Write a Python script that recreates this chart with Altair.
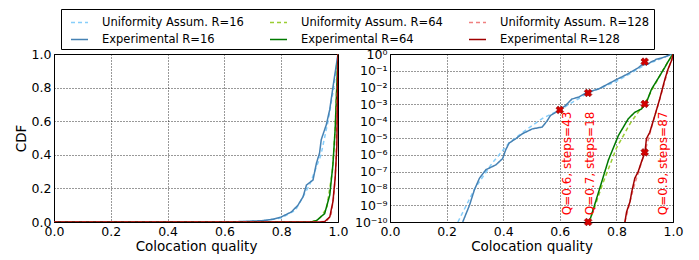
import altair as alt
import pandas as pd

# ---------------- data ----------------
plot_order = ["Uniformity Assum. R=16", "Experimental R=16",
              "Uniformity Assum. R=64", "Experimental R=64",
              "Uniformity Assum. R=128", "Experimental R=128"]
series_colors = ["#87cefa", "#4682b4", "#9acd32", "#007a00", "#f08080", "#a00000"]
series_dashes = [[4, 3], [1, 0], [4, 3], [1, 0], [4, 3], [1, 0]]

uni16_q = [0.0, 0.24, 0.30, 0.36, 0.42, 0.48, 0.54, 0.60, 0.65, 0.70, 0.75, 0.80, 0.85, 0.90, 0.94, 0.965, 0.985, 1.0]
uni16_cdf = [0.0, 1e-10, 1e-8, 3e-7, 5e-6, 3e-5, 1.5e-4, 4.7e-4, 1.5e-3, 4.8e-3, 1e-2, 2.4e-2, 0.07, 0.22, 0.40, 0.60, 0.80, 1.0]

exp16_q = [0.0, 0.257, 0.281, 0.298, 0.316, 0.339, 0.374, 0.398, 0.409, 0.421, 0.444, 0.468, 0.503, 0.538,
           0.556, 0.567, 0.596, 0.620, 0.643, 0.667, 0.696, 0.737, 0.772, 0.80, 0.836, 0.859, 0.877, 0.889,
           0.912, 0.924, 0.935, 0.941, 0.959, 0.971, 0.982, 0.99, 1.0]
exp16_cdf = [0.0, 1e-10, 1e-9, 8e-9, 4e-8, 1.3e-7, 2.5e-7, 6e-7, 2e-6, 5e-6, 9e-6, 1.8e-5, 3.5e-5, 4.5e-5,
             1.1e-4, 2.2e-4, 4.3e-4, 8.5e-4, 2.1e-3, 2.7e-3, 5.2e-3, 8.3e-3, 1.7e-2, 3e-2, 0.06, 0.10, 0.15, 0.22,
             0.25, 0.35, 0.41, 0.49, 0.58, 0.67, 0.80, 0.89, 1.0]

uni64_q = [0.0, 0.705, 0.75, 0.80, 0.85, 0.88, 0.90, 0.93, 0.96, 0.98, 0.99, 1.0]
uni64_cdf = [0.0, 1e-10, 1.6e-8, 2.5e-6, 8e-5, 4e-4, 1.07e-3, 1e-2, 0.08, 0.30, 0.55, 1.0]

exp64_q = [0.0, 0.708, 0.737, 0.772, 0.807, 0.842, 0.865, 0.889, 0.906, 0.924, 0.953, 0.971, 0.982, 0.99, 1.0]
exp64_cdf = [0.0, 1.6e-10, 6e-9, 5e-7, 1.4e-5, 1.4e-4, 3.4e-4, 5.4e-4, 1.3e-3, 8e-3, 0.05, 0.16, 0.34, 0.55, 1.0]

uni128_q = [0.0, 0.83, 0.86, 0.90, 0.93, 0.96, 0.975, 0.985, 0.993, 1.0]
uni128_cdf = [0.0, 1e-10, 1e-8, 1.4e-6, 1e-4, 5e-3, 0.04, 0.15, 0.35, 1.0]

exp128_q = [0.0, 0.830, 0.836, 0.848, 0.854, 0.865, 0.877, 0.889, 0.901, 0.906, 0.918, 0.936, 0.953,
            0.971, 0.982, 0.99, 0.996, 1.0]
exp128_cdf = [0.0, 1e-10, 4e-10, 1.6e-9, 6e-9, 4e-8, 1e-7, 4e-7, 1.4e-6, 9e-6, 2.2e-5, 2.2e-4, 2.1e-3,
              0.03, 0.12, 0.26, 0.45, 1.0]

marker_q = [0.6, 0.7, 0.9, 0.9, 0.9, 0.7]
marker_cdf = [4.7e-4, 4.8e-3, 0.35, 1.07e-3, 1.4e-6, 1e-10]

note_text = ["Q=0.6, steps=43", "Q=0.7, steps=18", "Q=0.9, steps=87"]
note_q = [0.626, 0.708, 0.965]
note_cdf = [2.5e-10, 2.5e-10, 2.5e-10]

x_ticks = [0.0, 0.2, 0.4, 0.6, 0.8, 1.0]
y_ticks = [0.0, 0.2, 0.4, 0.6, 0.8, 1.0]
log_ticks = [1, 1e-1, 1e-2, 1e-3, 1e-4, 1e-5, 1e-6, 1e-7, 1e-8, 1e-9, 1e-10]
log_tick_labels = ["10⁰", "10⁻¹", "10⁻²", "10⁻³", "10⁻⁴", "10⁻⁵", "10⁻⁶", "10⁻⁷", "10⁻⁸", "10⁻⁹", "10⁻¹⁰"]

# ---------------- build tables ----------------
series_data = {
    "Uniformity Assum. R=16": (uni16_q, uni16_cdf),
    "Experimental R=16": (exp16_q, exp16_cdf),
    "Uniformity Assum. R=64": (uni64_q, uni64_cdf),
    "Experimental R=64": (exp64_q, exp64_cdf),
    "Uniformity Assum. R=128": (uni128_q, uni128_cdf),
    "Experimental R=128": (exp128_q, exp128_cdf),
}
rows = []
for name in plot_order:
    qs, cs = series_data[name]
    for i, (q, c) in enumerate(zip(qs, cs)):
        rows.append({"series": name, "q": q, "cdf": c, "idx": i})
df = pd.DataFrame(rows)
markers = pd.DataFrame({"q": marker_q, "cdf": marker_cdf})
notes = pd.DataFrame({"q": note_q, "cdf": note_cdf, "text": note_text})

FONT = "DejaVu Sans"

legend = alt.Legend(
    title=None, orient="none", legendX=7, legendY=-45, columns=3,
    symbolType="stroke", symbolSize=289, symbolStrokeWidth=1.5,
    labelFont=FONT, labelFontSize=11.5, labelColor="black", labelOffset=13,
    columnPadding=20, rowPadding=2, padding=4, symbolOffset=5,
    strokeColor="black", fillColor="white", cornerRadius=0,
)
color_enc = alt.Color("series:N", scale=alt.Scale(domain=plot_order, range=series_colors), legend=legend)
dash_enc = alt.StrokeDash("series:N", scale=alt.Scale(domain=plot_order, range=series_dashes), legend=legend)

x_enc = alt.X("q:Q", scale=alt.Scale(domain=[0, 1], nice=False),
              axis=alt.Axis(values=x_ticks, format=".1f", title="Colocation quality"))


def lines(y_enc, data):
    layers = []
    for name in plot_order:
        layers.append(
            alt.Chart(data).transform_filter(alt.datum.series == name)
            .mark_line(strokeWidth=1.5, clip=True)
            .encode(x=x_enc, y=y_enc, color=color_enc, strokeDash=dash_enc, order="idx:Q")
        )
    return layers


y_lin = alt.Y("cdf:Q", scale=alt.Scale(domain=[0, 1], nice=False),
              axis=alt.Axis(values=y_ticks, format=".1f", title="CDF"))
left = alt.layer(*lines(y_lin, df)).properties(width=284, height=168)

label_expr = "[" + ",".join("'" + s + "'" for s in log_tick_labels) + "][round(-log(datum.value)/LN10)]"
y_log = alt.Y("cdf:Q", scale=alt.Scale(type="log", domain=[1e-10, 1], nice=False),
              axis=alt.Axis(values=log_ticks, labelExpr=label_expr, title=None))

df_pos = df[df["cdf"] > 0]
mark_layer = alt.Chart(markers).mark_point(
    shape="cross", angle=45, filled=True, size=60, color="#d40000", stroke="#8b0000", strokeWidth=0.6, opacity=1
).encode(x=alt.X("q:Q"), y=alt.Y("cdf:Q"))
note_layer = alt.Chart(notes).mark_text(
    angle=270, align="left", baseline="middle", color="#ff0000", font=FONT, fontSize=12
).encode(x=alt.X("q:Q"), y=alt.Y("cdf:Q"), text="text:N")

right = alt.layer(*lines(y_log, df_pos), mark_layer, note_layer).properties(width=283, height=168)

chart = (
    alt.hconcat(left, right, spacing=4)
    .resolve_scale(color="shared", strokeDash="shared")
    .properties(padding={"left": 5, "top": 0, "right": 0, "bottom": 0})
    .configure_view(stroke="black", strokeWidth=1)
    .configure_axis(
        labelFont=FONT, labelFontSize=12.5, labelColor="black", labelPadding=3,
        titleFont=FONT, titleFontSize=13.5, titleFontWeight="normal", titleColor="black",
        domainColor="black", ticks=False, gridColor="black", gridDash=[1, 2], gridOpacity=0.8,
        labelFlush=False, labelOverlap=False,
    )
    .configure_axisX(titlePadding=2)
    .configure_axisY(titlePadding=3)
)

chart.save("out.html", embed_options={"renderer": "svg", "actions": False})
